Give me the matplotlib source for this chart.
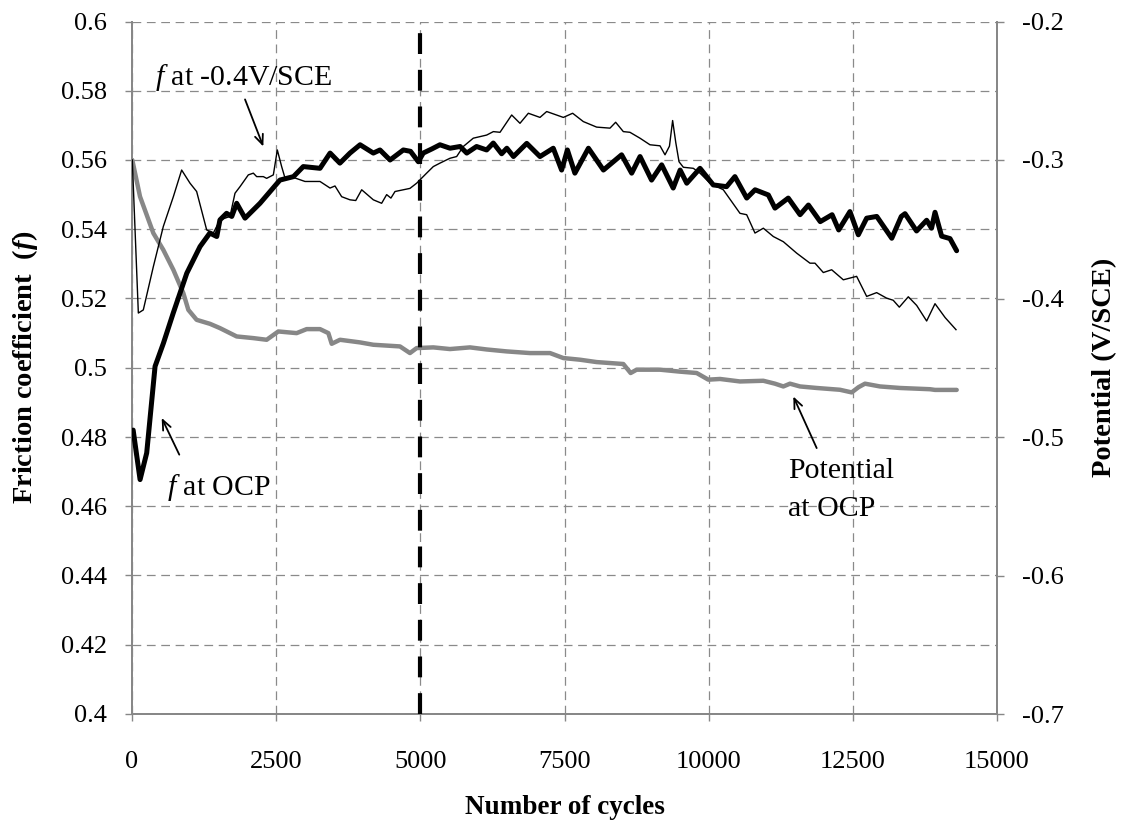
import matplotlib
matplotlib.use("Agg")
import matplotlib.pyplot as plt

plt.rcParams['font.family'] = ['Liberation Serif', 'DejaVu Serif']
plt.rcParams['mathtext.fontset'] = 'custom'
plt.rcParams['mathtext.rm'] = 'Liberation Serif'
plt.rcParams['mathtext.it'] = 'Liberation Serif:italic'
plt.rcParams['mathtext.bf'] = 'Liberation Serif:bold'
plt.rcParams['mathtext.bfit'] = 'Liberation Serif:italic:bold'

# ---------------- data ----------------
# friction coefficient at OCP (thick black, left axis)
ocp_cycles = [20, 140, 255, 400, 545, 715, 950, 1180, 1350, 1470, 1525, 1640, 1730, 1815,
              1960, 2220, 2565, 2800, 2970, 3260, 3435, 3605, 3780, 3955, 4185, 4300, 4475,
              4705, 4830, 4965, 5050, 5200, 5340, 5515, 5690, 5805, 5975, 6150, 6265, 6410,
              6500, 6615, 6845, 7075, 7305, 7450, 7550, 7680, 7915, 8175, 8490, 8665, 8810,
              9010, 9185, 9385, 9505, 9620, 9850, 10080, 10310, 10455, 10660, 10805, 11035,
              11150, 11380, 11585, 11730, 11935, 12140, 12255, 12450, 12595, 12740, 12915,
              13175, 13340, 13405, 13605, 13780, 13865, 13925, 14040, 14185, 14300]
ocp_friction = [0.482, 0.4677, 0.4754, 0.5004, 0.5071, 0.5158, 0.5273, 0.535, 0.5389, 0.5379,
                0.5427, 0.5446, 0.5437, 0.5475, 0.5432, 0.5475, 0.5542, 0.5552, 0.5581, 0.5576,
                0.562, 0.5591, 0.562, 0.5644, 0.562, 0.5629, 0.560, 0.5629, 0.5625, 0.5595,
                0.562, 0.5632, 0.5644, 0.5634, 0.5639, 0.562, 0.5639, 0.5629, 0.5649, 0.5618,
                0.5634, 0.561, 0.5648, 0.561, 0.5634, 0.5571, 0.5629, 0.5562, 0.5634, 0.5571,
                0.5615, 0.5562, 0.561, 0.5542, 0.5586, 0.5519, 0.5571, 0.5533, 0.5576, 0.5528,
                0.5523, 0.5552, 0.549, 0.5514, 0.5499, 0.5461, 0.549, 0.5442, 0.547, 0.5422,
                0.5442, 0.5398, 0.5451, 0.5384, 0.5432, 0.5437, 0.5374, 0.5437, 0.5445, 0.5395,
                0.5426, 0.5403, 0.5449, 0.538, 0.5373, 0.5338]

# friction coefficient at -0.4 V/SCE (thin black, left axis)
cath_cycles = [5, 110, 196, 370, 543, 717, 861, 1006, 1121, 1295, 1410, 1526, 1699, 1786, 1873,
               2017, 2104, 2162, 2277, 2335, 2451, 2520, 2595, 2653, 2827, 3000, 3260, 3434,
               3520, 3636, 3780, 3880, 3983, 4185, 4329, 4416, 4490, 4561, 4705, 4820, 4936,
               5109, 5225, 5341, 5514, 5630, 5745, 5918, 6150, 6266, 6382, 6584, 6728, 6873,
               7075, 7191, 7480, 7641, 7826, 8057, 8289, 8387, 8520, 8635, 8809, 8982, 9156,
               9243, 9320, 9375, 9430, 9486, 9561, 9734, 9850, 10023, 10254, 10543, 10659,
               10803, 10948, 11121, 11295, 11526, 11757, 11844, 11988, 12133, 12335, 12566,
               12740, 12913, 13086, 13200, 13306, 13462, 13607, 13780, 13925, 14100, 14289]
cath_friction = [0.560, 0.5158, 0.5167, 0.5292, 0.5408, 0.5494, 0.5571, 0.5533, 0.5509, 0.5398,
                 0.5389, 0.5427, 0.5437, 0.5504, 0.5523, 0.5557, 0.5562, 0.5552, 0.5552, 0.5547,
                 0.5557, 0.5629, 0.5581, 0.5548, 0.5548, 0.5538, 0.5538, 0.5519, 0.5525, 0.5494,
                 0.5485, 0.5483, 0.5514, 0.5485, 0.5475, 0.550, 0.549, 0.5509, 0.5514, 0.5518,
                 0.5533, 0.5562, 0.5581, 0.5591, 0.5605, 0.561, 0.5639, 0.5663, 0.5672, 0.5682,
                 0.568, 0.573, 0.5706, 0.5735, 0.5723, 0.574, 0.5723, 0.5735, 0.5711, 0.5695,
                 0.5692, 0.5709, 0.5682, 0.568, 0.5663, 0.5644, 0.5641, 0.5615, 0.5640, 0.5714,
                 0.5650, 0.5595, 0.5579, 0.5576, 0.5562, 0.5533, 0.5514, 0.5446, 0.5442, 0.5389,
                 0.5403, 0.5379, 0.5364, 0.5331, 0.5302, 0.5302, 0.5275, 0.5283, 0.5254, 0.5264,
                 0.5206, 0.5217, 0.5201, 0.5195, 0.5175, 0.5205, 0.518, 0.5135, 0.5185, 0.5145,
                 0.511]

# potential at OCP (grey, right axis, V/SCE)
pot_cycles = [5, 139, 370, 543, 717, 890, 977, 1121, 1353, 1526, 1815, 2104, 2335, 2537, 2855,
              3029, 3260, 3405, 3463, 3607, 3954, 4185, 4647, 4820, 4936, 5225, 5514, 5861,
              6150, 6497, 6902, 7249, 7480, 7769, 8057, 8520, 8647, 8751, 9156, 9500, 9792,
              9994, 10197, 10543, 10948, 11150, 11295, 11410, 11584, 11873, 12277, 12480,
              12600, 12711, 12971, 13318, 13838, 13925, 14301]
pot_values = [-0.300, -0.3264, -0.3528, -0.3649, -0.3793, -0.3961, -0.4082, -0.4154, -0.4183,
              -0.4214, -0.4274, -0.4286, -0.4298, -0.4238, -0.425, -0.4221, -0.4221, -0.425,
              -0.4327, -0.4298, -0.4317, -0.4334, -0.4346, -0.4394, -0.4358, -0.4353, -0.4365,
              -0.4353, -0.4368, -0.4382, -0.4394, -0.4394, -0.443, -0.4442, -0.4459, -0.4473,
              -0.4538, -0.4514, -0.4514, -0.4528, -0.4538, -0.4586, -0.4581, -0.4599, -0.4594,
              -0.4615, -0.4635, -0.4615, -0.4635, -0.4646, -0.4659, -0.4678, -0.4640, -0.4615,
              -0.4635, -0.4646, -0.4655, -0.466, -0.466]

switch_cycle = 5000

x_ticks = [0, 2500, 5000, 7500, 10000, 12500, 15000]
x_labels = ['0', '2500', '5000', '7500', '10000', '12500', '15000']
left_ticks = [0.40, 0.42, 0.44, 0.46, 0.48, 0.50, 0.52, 0.54, 0.56, 0.58, 0.60]
left_labels = ['0.4', '0.42', '0.44', '0.46', '0.48', '0.5', '0.52', '0.54', '0.56', '0.58', '0.6']
right_ticks = [-0.7, -0.6, -0.5, -0.4, -0.3, -0.2]
right_labels = ['-0.7', '-0.6', '-0.5', '-0.4', '-0.3', '-0.2']

# ---------------- figure ----------------
W, H = 1123, 825
fig = plt.figure(figsize=(W / 100, H / 100), dpi=100)
ax = fig.add_axes([132 / W, 1 - 714 / H, 865 / W, (714 - 21.5) / H])
ax2 = ax.twinx()
ax2.set_zorder(ax.get_zorder() - 1)
ax.patch.set_visible(False)

grey = '#878787'
grid_col = '#8a8a8a'
tick_fs = 19

# grey potential curve (right axis)
ax2.plot(pot_cycles, pot_values, color=grey, lw=3.2, solid_joinstyle='round', solid_capstyle='round')
ax2.set_ylim(-0.7, -0.2)
ax2.set_yticks(right_ticks)
ax2.set_yticklabels(right_labels, fontsize=tick_fs)

# friction curves (left axis)
ax.plot(ocp_cycles, ocp_friction, color='black', lw=3.6, solid_joinstyle='round', solid_capstyle='round', zorder=3)
ax.plot(cath_cycles, cath_friction, color='black', lw=1.0, zorder=4)
ax.axvline(switch_cycle, color='black', lw=3.0, linestyle=(0, (5, 3.8)), zorder=5)

ax.set_xlim(0, 15000)
ax.set_ylim(0.4, 0.6)
ax.set_xticks(x_ticks)
ax.set_xticklabels(x_labels, fontsize=tick_fs)
ax.set_yticks(left_ticks)
ax.set_yticklabels(left_labels, fontsize=tick_fs)

ax.grid(True, color=grid_col, lw=0.9, linestyle=(0, (7.0, 4.5)))
ax.set_axisbelow(True)

for a in (ax, ax2):
    a.spines['top'].set_visible(False)
    for s in ('left', 'right', 'bottom'):
        a.spines[s].set_color(grey)
        a.spines[s].set_linewidth(1.3)
ax.tick_params(axis='y', direction='out', length=5, width=1, color=grey, pad=13)
ax.tick_params(axis='x', direction='out', length=5, width=1, color=grey, pad=22)
ax2.tick_params(axis='y', direction='out', length=5, width=1, color=grey, pad=13)

# axis titles
fig.text(564.5 / W, 1 - 808 / H, 'Number of cycles', ha='center', va='center',
         fontsize=19.5, fontweight='bold')
fig.text(25 / W, 1 - 367 / H, r'Friction coefficient  ($\mathbfit{f}$)', ha='center', va='center',
         rotation=90, fontsize=20.5, fontweight='bold')
fig.text(1105 / W, 1 - 367 / H, 'Potential (V/SCE)', ha='center', va='center',
         rotation=90, fontsize=20.5, fontweight='bold')

# annotations
ann_fs = 21.5
arrow = dict(arrowstyle='->,head_length=0.7,head_width=0.3', color='black', lw=1.3,
             shrinkA=0, shrinkB=0)
ax.text(399, 0.5817, r'$f$ at -0.4V/SCE', fontsize=ann_fs, va='baseline', ha='left')
ax.annotate('', xy=(2277, 0.5639), xytext=(1960, 0.5775), arrowprops=arrow)
ax.text(601, 0.4633, r'$f$ at OCP', fontsize=ann_fs, va='baseline', ha='left')
ax.annotate('', xy=(515, 0.4855), xytext=(820, 0.4749), arrowprops=arrow)
ax.text(11381, 0.4682, 'Potential', fontsize=ann_fs, va='baseline', ha='left')
ax.text(11381, 0.4571, 'at OCP', fontsize=ann_fs, va='baseline', ha='left')
ax.annotate('', xy=(11468, 0.4917), xytext=(11873, 0.4768), arrowprops=arrow)

fig.savefig('out.png', dpi=100)
